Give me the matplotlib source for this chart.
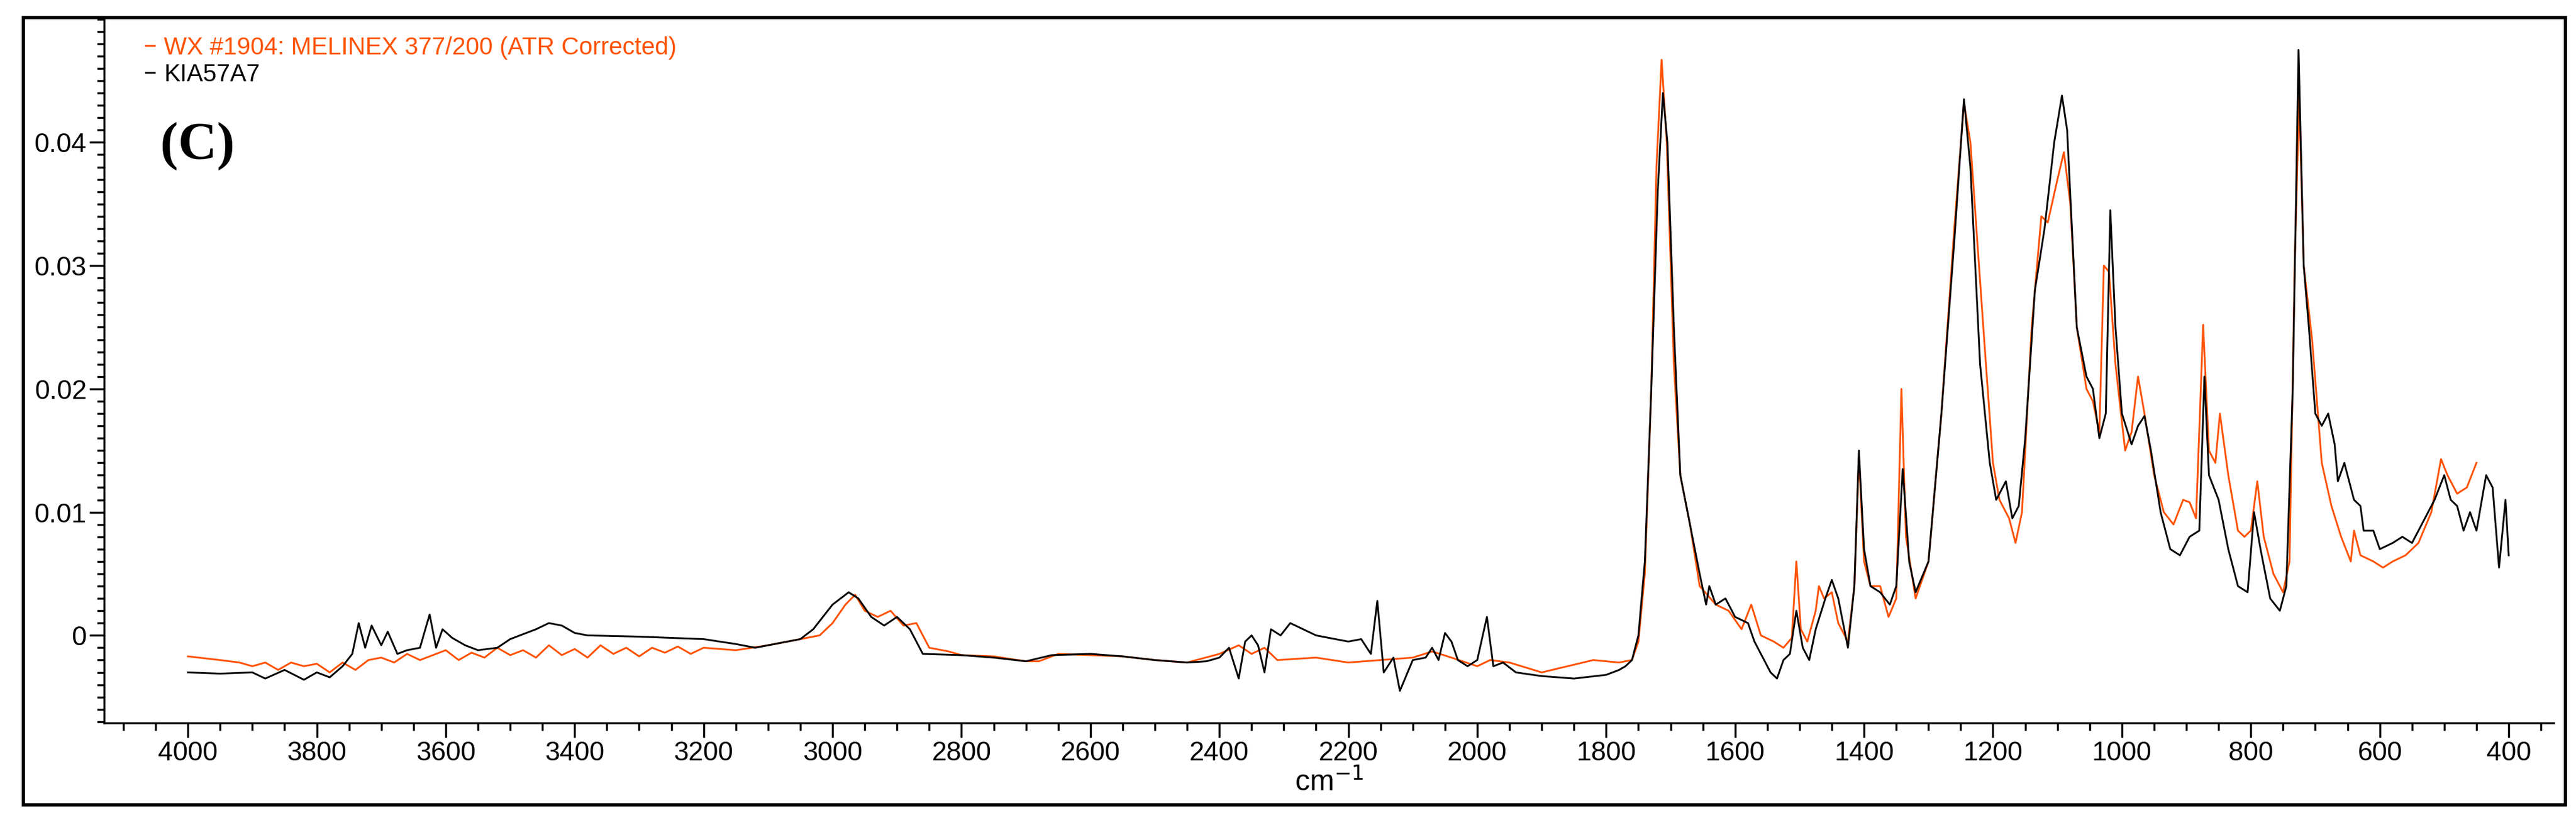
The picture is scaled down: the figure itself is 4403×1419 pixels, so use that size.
import matplotlib
matplotlib.use("Agg")
import matplotlib.pyplot as plt
from matplotlib.patches import Rectangle
from matplotlib.ticker import MultipleLocator

# KIA57A7 (black)
kia_wn = [4000, 3950, 3900, 3880, 3850, 3820, 3800, 3780, 3760, 3745, 3735, 3725, 3715, 3700, 3690,
          3675, 3660, 3640, 3625, 3615, 3605, 3590, 3570, 3550, 3520, 3500, 3460, 3440, 3420, 3400,
          3380, 3300, 3200, 3150, 3120, 3080, 3050, 3030, 3000, 2975, 2960, 2940, 2920, 2900, 2880,
          2860, 2800, 2750, 2700, 2660, 2600, 2550, 2500, 2450, 2420, 2400, 2385, 2370, 2360, 2350,
          2340, 2330, 2320, 2305, 2290, 2270, 2250, 2230, 2200, 2180, 2165, 2155, 2145, 2130, 2120,
          2100, 2080, 2070, 2060, 2050, 2040, 2030, 2015, 2000, 1985, 1975, 1960, 1940, 1900, 1850,
          1800, 1780, 1770, 1760, 1750, 1740, 1730, 1720, 1712, 1705, 1695, 1685, 1670, 1655, 1645,
          1640, 1630, 1615, 1600, 1580, 1570, 1560, 1545, 1535, 1525, 1515, 1505, 1495, 1485, 1475,
          1460, 1450, 1440, 1425, 1415, 1408, 1400, 1390, 1375, 1360, 1350, 1340, 1330, 1320, 1300,
          1280, 1260, 1245, 1235, 1220, 1205, 1195, 1180, 1170, 1160, 1150, 1135, 1120, 1105, 1093,
          1085, 1070, 1055, 1045, 1035, 1025, 1018, 1010, 1000, 985, 975, 965, 955, 940, 925,
          910, 895, 880, 872, 865, 850, 835, 820, 805, 795, 785, 770, 755, 745, 735,
          726, 718, 710, 700, 690, 680, 670, 665, 655, 640, 630, 625, 610, 600, 580,
          565, 550, 530, 515, 500, 490, 480, 470, 460, 450, 435, 425, 415, 405, 400]
kia_abs = [-0.0030, -0.0031, -0.0030, -0.0035, -0.0028, -0.0036, -0.0030, -0.0034, -0.0025, -0.0015,
           0.0010, -0.0010, 0.0008, -0.0008, 0.0003, -0.0015, -0.0012, -0.0010, 0.0017, -0.0010,
           0.0005, -0.0002, -0.0008, -0.0012, -0.0010, -0.0003, 0.0005, 0.0010, 0.0008, 0.0002,
           0.0000, -0.0001, -0.0003, -0.0007, -0.0010, -0.0006, -0.0003, 0.0005, 0.0025, 0.0035,
           0.0030, 0.0015, 0.0008, 0.0015, 0.0005, -0.0015, -0.0016, -0.0018, -0.0021, -0.0016,
           -0.0015, -0.0017, -0.0020, -0.0022, -0.0021, -0.0018, -0.0010, -0.0035, -0.0005, 0.0000,
           -0.0008, -0.0030, 0.0005, 0.0000, 0.0010, 0.0005, 0.0000, -0.0002, -0.0005, -0.0003,
           -0.0015, 0.0028, -0.0030, -0.0018, -0.0045, -0.0020, -0.0018, -0.0010, -0.0020, 0.0002,
           -0.0005, -0.0020, -0.0025, -0.0020, 0.0015, -0.0025, -0.0022, -0.0030, -0.0033, -0.0035,
           -0.0032, -0.0028, -0.0025, -0.0020, 0.0000, 0.0060, 0.0200, 0.0360, 0.0440, 0.0400,
           0.0250, 0.0130, 0.0090, 0.0050, 0.0025, 0.0040, 0.0025, 0.0030, 0.0015, 0.0010,
           -0.0005, -0.0015, -0.0030, -0.0035, -0.0020, -0.0015, 0.0020, -0.0010, -0.0020, 0.0005,
           0.0030, 0.0045, 0.0030, -0.0010, 0.0040, 0.0150, 0.0070, 0.0040, 0.0035, 0.0025,
           0.0040, 0.0135, 0.0060, 0.0035, 0.0060, 0.0180, 0.0320, 0.0435, 0.0380, 0.0220,
           0.0140, 0.0110, 0.0125, 0.0095, 0.0105, 0.0160, 0.0280, 0.0330, 0.0400, 0.0438,
           0.0410, 0.0250, 0.0210, 0.0200, 0.0160, 0.0180, 0.0345, 0.0250, 0.0180, 0.0155,
           0.0170, 0.0178, 0.0150, 0.0100, 0.0070, 0.0065, 0.0080, 0.0085, 0.0210, 0.0130,
           0.0110, 0.0070, 0.0040, 0.0035, 0.0100, 0.0070, 0.0030, 0.0020, 0.0040, 0.0200,
           0.0475, 0.0300, 0.0250, 0.0180, 0.0170, 0.0180, 0.0155, 0.0125, 0.0140, 0.0110,
           0.0105, 0.0085, 0.0085, 0.0070, 0.0075, 0.0080, 0.0075, 0.0095, 0.0110, 0.0130,
           0.0110, 0.0105, 0.0085, 0.0100, 0.0085, 0.0130, 0.0120, 0.0055, 0.0110, 0.0065]

# WX #1904 (orange)
wx_wn = [4000, 3950, 3920, 3900, 3880, 3860, 3840, 3820, 3800, 3780, 3760, 3740, 3720, 3700, 3680,
         3660, 3640, 3620, 3600, 3580, 3560, 3540, 3520, 3500, 3480, 3460, 3440, 3420, 3400, 3380,
         3360, 3340, 3320, 3300, 3280, 3260, 3240, 3220, 3200, 3150, 3100, 3050, 3020, 3000, 2980,
         2965, 2950, 2930, 2910, 2890, 2870, 2850, 2820, 2800, 2750, 2700, 2680, 2650, 2600, 2550,
         2500, 2450, 2400, 2370, 2350, 2330, 2310, 2250, 2200, 2150, 2100, 2070, 2040, 2000, 1980,
         1950, 1900, 1860, 1820, 1780, 1760, 1750, 1740, 1730, 1722, 1714, 1706, 1695, 1685, 1670,
         1655, 1630, 1610, 1590, 1575, 1560, 1540, 1525, 1512, 1505, 1498, 1488, 1475, 1470, 1462,
         1450, 1440, 1425, 1415, 1408, 1400, 1390, 1375, 1362, 1350, 1342, 1335, 1320, 1300, 1280,
         1260, 1245, 1235, 1215, 1200, 1190, 1175, 1165, 1155, 1140, 1125, 1115, 1100, 1090, 1080,
         1070, 1055, 1045, 1035, 1028, 1020, 1010, 995, 985, 975, 965, 950, 935, 920, 905,
         895, 885, 874, 865, 855, 848, 835, 820, 810, 800, 790, 780, 765, 750, 740,
         732, 725, 718, 705, 690, 675, 660, 645, 640, 630, 610, 595, 580, 560, 540,
         520, 505, 495, 480, 465, 450]
wx_abs = [-0.0017, -0.0020, -0.0022, -0.0025, -0.0022, -0.0028, -0.0022, -0.0025, -0.0023, -0.0030,
          -0.0022, -0.0028, -0.0020, -0.0018, -0.0022, -0.0015, -0.0020, -0.0016, -0.0012, -0.0020,
          -0.0014, -0.0018, -0.0010, -0.0016, -0.0012, -0.0018, -0.0008, -0.0016, -0.0011, -0.0018,
          -0.0008, -0.0015, -0.0010, -0.0017, -0.0010, -0.0014, -0.0009, -0.0015, -0.0010, -0.0012,
          -0.0008, -0.0003, 0.0000, 0.0010, 0.0025, 0.0033, 0.0020, 0.0015, 0.0020, 0.0008,
          0.0010, -0.0010, -0.0013, -0.0016, -0.0017, -0.0021, -0.0021, -0.0015, -0.0016, -0.0017,
          -0.0020, -0.0022, -0.0015, -0.0008, -0.0015, -0.0010, -0.0020, -0.0018, -0.0022, -0.0020,
          -0.0018, -0.0013, -0.0018, -0.0025, -0.0020, -0.0022, -0.0030, -0.0025, -0.0020, -0.0022,
          -0.0020, -0.0005, 0.0050, 0.0200, 0.0380, 0.0467, 0.0400, 0.0220, 0.0130, 0.0090,
          0.0040, 0.0025, 0.0020, 0.0005, 0.0025, 0.0000, -0.0005, -0.0010, -0.0002, 0.0060,
          0.0005, -0.0005, 0.0020, 0.0040, 0.0030, 0.0035, 0.0010, -0.0005, 0.0040, 0.0145,
          0.0060, 0.0040, 0.0040, 0.0015, 0.0030, 0.0200, 0.0080, 0.0030, 0.0060, 0.0180,
          0.0330, 0.0432, 0.0400, 0.0250, 0.0140, 0.0110, 0.0095, 0.0075, 0.0100, 0.0250,
          0.0340, 0.0335, 0.0370, 0.0392, 0.0350, 0.0250, 0.0200, 0.0190, 0.0165, 0.0300,
          0.0295, 0.0220, 0.0150, 0.0165, 0.0210, 0.0180, 0.0130, 0.0100, 0.0090, 0.0110,
          0.0108, 0.0095, 0.0252, 0.0150, 0.0140, 0.0180, 0.0130, 0.0085, 0.0080, 0.0085,
          0.0125, 0.0080, 0.0050, 0.0035, 0.0060, 0.0300, 0.0437, 0.0300, 0.0240, 0.0140,
          0.0105, 0.0080, 0.0060, 0.0085, 0.0065, 0.0060, 0.0055, 0.0060, 0.0065, 0.0075,
          0.0100, 0.0143, 0.0130, 0.0115, 0.0120, 0.0140]

plt.rcParams['font.family'] = ['Liberation Sans', 'DejaVu Sans']

fig = plt.figure(figsize=(44.03, 14.19), dpi=100)
fig.patches.append(Rectangle((0.009, 0.030), 0.987, 0.949, transform=fig.transFigure,
                             fill=False, edgecolor="black", linewidth=4))
ax = fig.add_axes([0.0404, 0.129, 0.951, 0.848])

ax.plot(wx_wn, wx_abs, color="#ff5200", linewidth=2.2, label="WX #1904: MELINEX 377/200 (ATR Corrected)")
ax.plot(kia_wn, kia_abs, color="black", linewidth=2.2, label="KIA57A7")

ax.set_xlim(4130, 330)
ax.set_ylim(-0.0071, 0.05)
ax.xaxis.set_major_locator(MultipleLocator(200))
ax.xaxis.set_minor_locator(MultipleLocator(50))
ax.yaxis.set_minor_locator(MultipleLocator(0.001))
ax.set_yticks([0.0, 0.01, 0.02, 0.03, 0.04])
ax.set_yticklabels(["0", "0.01", "0.02", "0.03", "0.04"])
ax.tick_params(axis="both", which="major", length=18, width=2.5, labelsize=33, direction="out")
ax.tick_params(axis="both", which="minor", length=9, width=2.5, direction="out")
for s in ["top", "right"]:
    ax.spines[s].set_visible(False)
for s in ["left", "bottom"]:
    ax.spines[s].set_linewidth(2.5)

ax.set_xlabel(r"cm$^{-1}$", fontsize=36, labelpad=2)

leg = ax.legend(loc="upper left", bbox_to_anchor=(0.01, 1.0), frameon=False, fontsize=30,
                handlelength=0.35, handletextpad=0.4, labelspacing=0.15, borderpad=0.2)
for t, c in zip(leg.get_texts(), ["#ff5200", "black"]):
    t.set_color(c)

ax.text(0.023, 0.82, "(C)", transform=ax.transAxes, fontsize=66, fontweight="bold",
        family=["Liberation Serif", "DejaVu Serif"], va="center")

fig.savefig("out.png", dpi=100)
